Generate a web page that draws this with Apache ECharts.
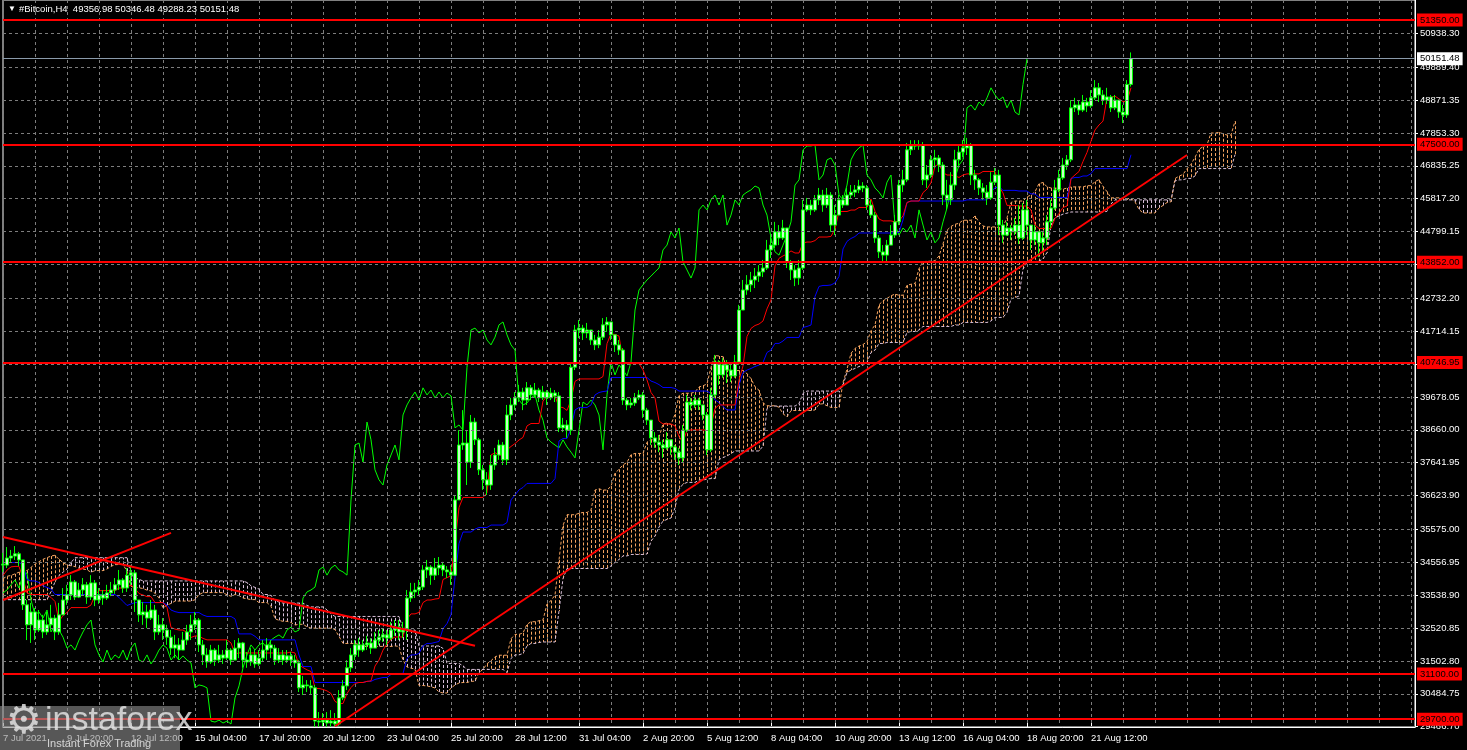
<!DOCTYPE html>
<html><head><meta charset="utf-8">
<script src="https://cdn.jsdelivr.net/npm/echarts@6/dist/echarts.min.js"></script>
<style>html,body{margin:0;padding:0;background:#000;}#c{width:1467px;height:750px;}</style>
</head><body><div id="c"></div>
<script>
// ---- DATA (H4 bars, first visible bar = 7 Jul 2021 04:00) ----
const firstBarUTC = Date.UTC(2021, 6, 7, 4);
const totalSlots = 354;          // bars visible across the chart width (incl. empty future space)
const ichimokuShift = 26;

// bars before the visible window (used only for the Ichimoku history), 24 Jun 04:00 .. 7 Jul 00:00
const preCloses = [33200,33900,34400,34800,34600,
 34300,34000,33500,32400,31600,31700, 31400,30800,31500,31900,32300,32200,
 32600,32900,33500,34000,34200,34700, 34900,34600,34200,34300,34500,34400,
 35200,35600,36200,36000,35700,35900, 35800,35300,34900,35200,35400,35000,
 34500,33800,33600,33300,33500,33600, 33300,33000,33400,33600,33800,33800,
 34100,34300,34500,34600,34700,34700, 35100,35400,35600,35500,35300,35300,
 34900,34200,33900,33700,33600,33700, 33900,34300,34600,34200,34000,34200, 34500];
const preHighs = [33500,34100,34600,35200,34900,
 34700,34500,34100,33600,32500,31900, 31800,31500,31700,32100,32400,32500,
 32700,33100,33700,34200,34400,34800, 35100,35000,34700,34600,34700,34800,
 35300,35800,36500,36600,36200,36100, 36000,35900,35400,35300,35600,35500,
 35100,34600,34000,33800,33700,33800, 33700,33400,33500,33800,33900,34000,
 34300,34400,34600,34800,34900,34900, 35200,35600,35900,35800,35600,35500,
 35400,35000,34300,34100,33900,33900, 34100,34500,34900,34700,34300,34400, 34700];
const preLows = [32700,33100,33800,34300,34300,
 34000,33700,33200,32200,31200,31000, 31200,30200,30700,31300,31700,31900,
 32100,32500,32800,33400,33800,34100, 34500,34400,34000,34000,34200,34200,
 34300,35100,35500,35800,35500,35600, 35500,35200,34700,34800,35100,34800,
 34300,33700,33400,33100,33200,33400, 33100,32800,32900,33300,33500,33600,
 33700,34000,34200,34400,34500,34500, 34600,35000,35300,35300,35100,35100,
 34700,34000,33600,33300,33200,33400, 33600,33800,34200,34000,33800,33900, 34100];

// visible bars (open = previous close)
const closes = [
 34470,34690,34750,34820,34630,33240,32620,33020,32460,32770,
 32400,32620,32830,32400,32930,33390,33550,33950,33480,33700,
 33860,33480,33920,33390,33550,33450,33610,33700,33860,34010,
 33760,34160,34230,33390,32930,33020,32830,33080,32400,32620,
 32460,32240,31900,32000,31840,32150,32400,32620,32770,32000,
 31690,31470,31840,31530,31690,31590,31840,31530,31900,32060,
 31530,31470,31690,31410,31590,31840,32000,31900,31530,31690,
 31530,31660,31530,31440,30670,30760,30730,30670,29640,29610,
 29670,29580,29640,29550,30360,30730,31290,31690,32000,31840,
 32000,32060,31900,32150,32240,32310,32210,32460,32550,32400,
 32460,33450,33640,33700,33790,34320,34410,34160,34380,34470,
 34320,34260,34160,36490,38190,38250,37660,38900,38350,37420,
 37110,36950,37570,37880,38190,37730,39120,39430,39650,39830,
 39580,39960,39740,39890,39650,39830,39650,39800,39710,38720,
 38810,38650,40600,41750,41810,41660,41750,41440,41290,41530,
 41910,42000,41600,41290,41130,39580,39430,39490,39650,39740,
 39270,38960,38410,38280,38190,38100,38350,38130,37970,37790,
 38650,39520,39430,39580,39430,39120,38040,39740,40760,40360,
 40670,40510,40330,40760,42370,42990,43150,43300,43420,43550,
 43670,44230,44380,44790,44600,44910,43860,43610,43360,43670,
 45470,45620,45470,45780,45930,45620,45930,45000,45310,45780,
 45620,45930,46020,46090,46210,46150,45620,45310,44600,44170,
 44070,44380,44690,45100,46240,46400,47330,47450,47450,47480,
 46400,46550,47020,47080,46860,45930,45780,46240,47020,47260,
 47390,47480,46550,46400,46150,46020,45840,46330,46550,45000,
 44690,44910,44790,45000,44600,45470,45000,44540,44790,44450,
 44600,45100,45530,46090,46460,46860,47020,48630,48720,48560,
 48810,48690,48940,49250,49030,48870,48970,48630,48870,48500,
 48410,49356.98,50151.48];
const highs = [
 34850,35030,34940,35060,34880,34630,33390,33300,33140,33080,
 32930,33020,33240,32930,33300,33760,33860,34160,34010,33920,
 34070,33950,34160,34010,33760,33700,33860,33950,34070,34320,
 34070,34380,34470,34320,33240,33330,33240,33390,33240,32930,
 32830,32620,32460,32310,32210,32400,32620,32930,33020,32830,
 32150,31900,32000,31900,32000,31840,32150,31900,32150,32210,
 32090,31780,31900,31840,31840,32150,32210,32150,32000,31900,
 31840,31840,31780,31690,31530,31040,30910,30910,30760,29920,
 29890,29920,29980,29890,30600,30910,31530,31900,32150,32210,
 32150,32280,32210,32400,32460,32520,32460,32710,32770,32770,
 32710,33700,33920,33920,34010,34470,34630,34470,34690,34720,
 34570,34440,34470,36640,38650,39270,38650,39120,39030,38410,
 37570,37350,37880,38100,38350,38280,39430,39650,39830,40050,
 39960,40140,40050,40110,39960,40020,39890,39960,39890,39830,
 39030,38960,40760,41910,42060,41910,41970,41750,41600,41750,
 42120,42150,41910,41600,41440,41190,39650,39650,39800,39890,
 39830,39340,38810,38590,38500,38350,38590,38350,38190,38100,
 38810,39740,39650,39740,39650,39430,39210,39960,40980,40820,
 40880,40820,40670,40980,42530,43300,43450,43550,43670,43760,
 43920,44540,44690,45100,45000,45160,44910,43920,43760,43920,
 45780,45840,45780,45930,46150,46090,46150,46020,45620,45930,
 45930,46150,46240,46240,46400,46330,46240,45780,45410,44690,
 44380,44540,45000,45310,46400,46710,47540,47630,47630,47630,
 47570,46860,47170,47330,47170,46950,46400,46640,47330,47480,
 47630,47700,47540,46710,46460,46300,46240,46640,46770,46710,
 45160,45100,45000,45220,45620,45680,45780,45000,45000,44760,
 44790,45310,45780,46400,46710,47080,47170,48870,48940,48870,
 49030,48940,49180,49490,49400,49180,49250,49030,49030,48870,
 48720,49490,50346.48];
const lows = [
 34260,34380,34570,34630,34440,33080,32150,32060,32150,32400,
 32210,32310,32460,32150,32310,33020,33240,33390,33390,33450,
 33550,33270,33390,33200,33270,33240,33390,33510,33580,33700,
 33610,33640,33860,33020,32710,32620,32520,32770,32150,32310,
 32150,32000,31690,31590,31530,31840,32000,32150,32460,31780,
 31380,31290,31410,31350,31440,31410,31530,31380,31530,31590,
 31290,31290,31350,31290,31350,31470,31530,31590,31380,31440,
 31380,31440,31350,31290,30540,30450,30540,30480,29460,29460,
 29460,29460,29460,29460,29490,30290,30600,31160,31530,31630,
 31780,31840,31720,31900,32000,32090,32000,32150,32280,32150,
 32210,32150,33330,33450,33550,33700,34070,33860,34010,34160,
 34130,34070,33860,34160,36490,38040,36950,37480,38190,37260,
 36800,36640,36800,37420,37730,37570,37570,38960,39270,39520,
 39270,39430,39580,39650,39520,39580,39430,39580,39520,38590,
 38590,38410,38500,40510,41500,41440,41500,41290,41130,41190,
 41440,41690,41440,41070,40980,39430,39270,39340,39400,39580,
 39030,38810,38190,38100,37970,37790,38040,37880,37730,37570,
 37660,38590,39270,39340,39270,38960,37880,37970,39650,40050,
 40270,40110,40140,40270,40670,42370,42840,42930,43050,43240,
 43390,43610,43980,44290,44380,44540,43670,43300,43110,43150,
 43610,45410,45310,45410,45620,45410,45530,44790,44690,45470,
 45530,45780,45840,45870,45990,46020,45470,45220,44450,43980,
 43860,43860,44380,44600,45000,46020,46330,47170,47330,47330,
 46240,46150,46460,46770,46640,45620,45470,45620,46090,46770,
 47110,47170,46240,46090,45930,45780,45620,45780,46240,44690,
 44450,44660,44540,44690,44410,44540,44690,44230,44380,44010,
 44170,44380,44910,45470,46020,46400,46710,46950,48500,48410,
 48500,48500,48630,48870,48810,48720,48750,48500,48560,48320,
 48160,48320,49288.23];

const yTickValues = [29466.70,30484.75,31502.80,32520.85,33538.90,34556.95,35575.00,36623.90,
 37641.95,38660.00,39678.05,40696.10,41714.15,42732.20,43781.10,44799.15,45817.20,46835.25,
 47853.30,48871.35,49889.40,50938.30];
const levelPrices = [51350.00, 47500.00, 43852.00, 40746.95, 31100.00, 29700.00];
const lastPrice = 50151.48;
const trendLines = [   // [barIndex, price] pairs
 [[0, 35340], [118, 31970]],
 [[0, 33390], [42, 35470]],
 [[83, 29480], [296, 47170]]
];
const titleText = '#Bitcoin,H4  49356.98 50346.48 49288.23 50151.48';

// ---- derived ----
const months = ['Jan','Feb','Mar','Apr','May','Jun','Jul','Aug','Sep','Oct','Nov','Dec'];
const cats = [];
for (let i = 0; i < totalSlots; i++) {
  const d = new Date(firstBarUTC + i * 4 * 3600 * 1000);
  const hh = String(d.getUTCHours()).padStart(2, '0');
  cats.push(i === 0 ? d.getUTCDate() + ' ' + months[d.getUTCMonth()] + ' ' + d.getUTCFullYear()
                    : d.getUTCDate() + ' ' + months[d.getUTCMonth()] + ' ' + hh + ':00');
}
const n = closes.length;
const opens = closes.map((c, i) => i === 0 ? preCloses[preCloses.length - 1] : closes[i - 1]);
const hi = highs.map((h, i) => Math.max(h, opens[i], closes[i]));
const lo = lows.map((l, i) => Math.min(l, opens[i], closes[i]));
const candle = closes.map((c, i) => [opens[i], c, lo[i], hi[i]]);

const P = preCloses.length;
const allH = preHighs.concat(hi), allL = preLows.concat(lo), allC = preCloses.concat(closes);
function mid(end, len) {
  let h = -Infinity, l = Infinity;
  for (let k = Math.max(0, end - len + 1); k <= end; k++) { h = Math.max(h, allH[k]); l = Math.min(l, allL[k]); }
  return (h + l) / 2;
}
const tenkan = [], kijun = [], chikou = [], spanA = [], spanB = [], cloud = [];
for (let i = 0; i < totalSlots; i++) {
  tenkan.push(i < n ? mid(P + i, 9) : null);
  kijun.push(i < n ? mid(P + i, 26) : null);
  const jc = P + i + ichimokuShift;
  chikou.push(jc < allC.length ? allC[jc] : null);
  const j = P + i - ichimokuShift;
  if (j >= 0 && j < allC.length) {
    const a = (mid(j, 9) + mid(j, 26)) / 2, b = mid(j, 52);
    spanA.push(a); spanB.push(b); cloud.push([i, a, b]);
  } else { spanA.push(null); spanB.push(null); }
}

const FONT = 'Liberation Sans';
const chart = echarts.init(document.getElementById('c'));
const lineS = (name, data, color, z, dash) => ({
  name, type: 'line', data, symbol: 'none', z, silent: true, connectNulls: false,
  lineStyle: { color, width: 1, type: dash || 'solid' }
});
const labelAt = (i) => i % 16 === 0 && i < n;

chart.setOption({
  animation: false,
  backgroundColor: '#000',
  grid: { left: 3, right: 52, top: 0, bottom: 23, show: true, borderColor: '#ffffff', borderWidth: 1, backgroundColor: 'transparent' },
  xAxis: {
    type: 'category', data: cats, boundaryGap: false,
    axisLine: { show: true, lineStyle: { color: '#ffffff' } },
    axisTick: { show: true, inside: true, length: 4, interval: labelAt, lineStyle: { color: '#ffffff' } },
    axisLabel: { interval: labelAt, color: '#ffffff', fontFamily: FONT, fontSize: 9.5, align: 'left', margin: 6 },
    splitLine: { show: true, interval: (i) => i % 8 === 0, lineStyle: { color: '#7d7d7d', type: [3, 3], width: 1 } }
  },
  yAxis: {
    type: 'value', position: 'right', min: 29457, max: 51970, scale: true,
    axisLine: { show: true, lineStyle: { color: '#ffffff' } },
    axisTick: { show: true, length: 3, customValues: yTickValues, lineStyle: { color: '#ffffff' } },
    axisLabel: { customValues: yTickValues, formatter: (v) => v.toFixed(2), color: '#ffffff', fontFamily: FONT, fontSize: 9.5, margin: 5 },
    splitLine: { show: false }
  },
  series: [
    { name: 'grid', type: 'line', data: new Array(totalSlots).fill(null), symbol: 'none', silent: true, z: 1,
      lineStyle: { opacity: 0 },
      markLine: { silent: true, symbol: ['none', 'none'], animation: false, label: { show: false },
        lineStyle: { color: '#7d7d7d', type: [3, 3], width: 1 },
        data: yTickValues.map(v => ({ yAxis: v })) } },
    { name: 'cloud', type: 'custom', data: cloud, z: 2, silent: true,
      encode: { x: 0, y: [1, 2] },
      renderItem: (params, api) => {
        const i = api.value(0), a = api.value(1), b = api.value(2);
        const p1 = api.coord([i, a]), p2 = api.coord([i, b]);
        const x = Math.round(p1[0]) + 0.5;
        return { type: 'line', shape: { x1: x, y1: p1[1], x2: x, y2: p2[1] },
          style: { stroke: a >= b ? '#F4A460' : '#D8BFD8', lineWidth: 1, lineDash: [3, 2] } };
      } },
    lineS('Senkou A', spanA, '#F4A460', 3, [3, 2]),
    lineS('Senkou B', spanB, '#D8BFD8', 3, [3, 2]),
    lineS('Chikou', chikou, '#00ff00', 3),
    lineS('Kijun', kijun, '#0000ff', 3),
    lineS('Tenkan', tenkan, '#ff0000', 3),
    { name: 'Bitcoin', type: 'candlestick', data: candle, z: 4, barWidth: 3, silent: true,
      itemStyle: { color: '#c8ffc8', color0: '#c8ffc8', borderColor: '#00ff00', borderColor0: '#00ff00', borderWidth: 1 } },
    { name: 'levels', type: 'line', data: new Array(totalSlots).fill(null), symbol: 'none', silent: true, z: 10,
      lineStyle: { opacity: 0 },
      markLine: { silent: true, symbol: ['none', 'none'], animation: false,
        data: [
          { yAxis: lastPrice, lineStyle: { color: '#8a9aaa', width: 1, type: 'solid' },
            label: { show: true, position: 'end', distance: 2, formatter: lastPrice.toFixed(2), color: '#000', backgroundColor: '#ffffff',
              padding: [2, 3, 1, 3], fontFamily: FONT, fontSize: 9.5 } },
          ...levelPrices.map(v => ({ yAxis: v, lineStyle: { color: '#ff0000', width: 2, type: 'solid' },
            label: { show: true, position: 'end', distance: 2, formatter: v.toFixed(2), color: '#000', backgroundColor: '#ff0000',
              padding: [2, 3, 1, 3], fontFamily: FONT, fontSize: 9.5 } })),
          ...trendLines.map(t => [
            { coord: t[0], lineStyle: { color: '#ff0000', width: 2, type: 'solid' }, label: { show: false } },
            { coord: t[1] }
          ])
        ] } }
  ],
  graphic: [
    { type: 'text', left: 8, top: 5, z: 100, style: { text: '▼', fill: '#fff', font: '8px ' + FONT } },
    { type: 'text', left: 19, top: 4, z: 100, style: { text: titleText, fill: '#fff', font: '9.5px ' + FONT } },
    { type: 'rect', left: 0, top: 706, z: 100, shape: { width: 180, height: 44 }, style: { fill: 'rgba(140,140,140,0.62)' } },
    { type: 'text', left: 6, top: 703, z: 101, style: { text: '⚙', fill: 'rgba(225,225,225,0.85)', font: '40px "DejaVu Sans"' } },
    { type: 'text', left: 45, top: 704, z: 101, style: { text: 'instaforex', fill: 'rgba(225,225,225,0.85)', font: '34px ' + FONT } },
    { type: 'text', left: 47, top: 738, z: 101, style: { text: 'Instant Forex Trading', fill: 'rgba(225,225,225,0.9)', font: '11px ' + FONT } }
  ]
});
</script>
</body></html>
